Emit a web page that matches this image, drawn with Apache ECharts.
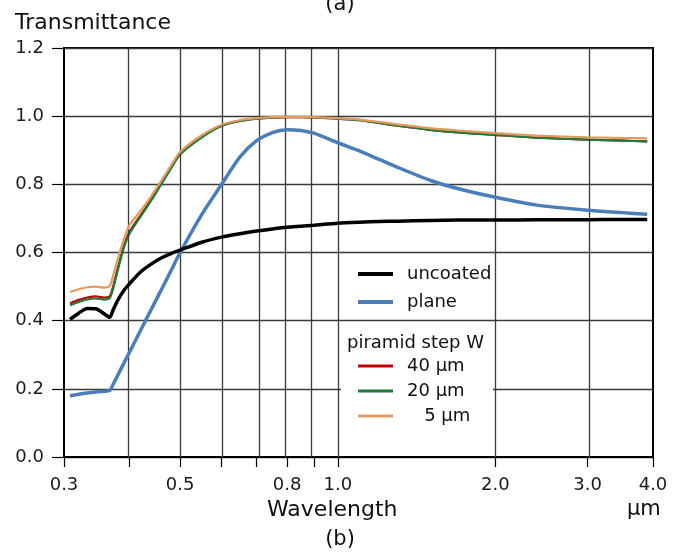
<!DOCTYPE html>
<html>
<head>
<meta charset="utf-8">
<script src="https://cdn.jsdelivr.net/npm/echarts@6/dist/echarts.min.js"></script>
<style>html,body{margin:0;padding:0;background:#fff}#chart{width:677px;height:554px}</style>
</head>
<body>
<div id="chart"></div>
<script>
// ---- data ----
const wavelengths = [0.308, 0.32, 0.332, 0.345, 0.358, 0.367, 0.372, 0.38, 0.39, 0.40, 0.42, 0.44, 0.46, 0.48, 0.50, 0.55, 0.60, 0.65, 0.70, 0.75, 0.80, 0.85, 0.90, 1.0, 1.1, 1.2, 1.3, 1.5, 1.7, 2.0, 2.4, 3.0, 3.5, 3.9];
const uncoated = [0.404, 0.422, 0.436, 0.435, 0.420, 0.410, 0.430, 0.460, 0.488, 0.508, 0.543, 0.566, 0.584, 0.597, 0.607, 0.630, 0.645, 0.655, 0.663, 0.669, 0.674, 0.677, 0.680, 0.686, 0.689, 0.691, 0.692, 0.694, 0.695, 0.695, 0.696, 0.696, 0.697, 0.697];
const plane = [0.179, 0.184, 0.188, 0.191, 0.193, 0.195, 0.212, 0.240, 0.274, 0.307, 0.371, 0.432, 0.490, 0.546, 0.600, 0.712, 0.800, 0.880, 0.928, 0.952, 0.960, 0.958, 0.950, 0.922, 0.898, 0.873, 0.850, 0.812, 0.787, 0.762, 0.739, 0.724, 0.717, 0.712];
const step40 = [0.451, 0.461, 0.468, 0.471, 0.468, 0.472, 0.498, 0.553, 0.617, 0.660, 0.709, 0.755, 0.802, 0.848, 0.889, 0.939, 0.972, 0.986, 0.993, 0.996, 0.997, 0.997, 0.996, 0.993, 0.988, 0.980, 0.972, 0.960, 0.952, 0.945, 0.937, 0.931, 0.928, 0.926];
const step20 = [0.445, 0.455, 0.462, 0.465, 0.462, 0.467, 0.492, 0.548, 0.612, 0.655, 0.705, 0.752, 0.800, 0.846, 0.888, 0.938, 0.972, 0.986, 0.993, 0.996, 0.997, 0.997, 0.996, 0.993, 0.988, 0.980, 0.972, 0.960, 0.952, 0.945, 0.937, 0.931, 0.928, 0.926];
const step5 = [0.484, 0.492, 0.498, 0.500, 0.497, 0.502, 0.530, 0.580, 0.638, 0.680, 0.722, 0.765, 0.810, 0.855, 0.895, 0.944, 0.975, 0.988, 0.994, 0.997, 0.998, 0.998, 0.997, 0.994, 0.990, 0.983, 0.976, 0.965, 0.958, 0.950, 0.943, 0.938, 0.936, 0.935];
const xGridValues = [0.4, 0.5, 0.6, 0.7, 0.8, 0.9, 1.0, 2.0, 3.0];
const xTickValues = [0.3, 0.4, 0.5, 0.6, 0.7, 0.8, 0.9, 1.0, 2.0, 3.0, 4.0];
const xLabelValues = [0.3, 0.5, 0.8, 1.0, 2.0, 3.0, 4.0];
const xMin = 0.3, xMax = 4.0;

// ---- chart ----
const FONT = 'DejaVu Sans';
const GRIDC = '#3a3a3a';
const lg = v => Math.log10(v);
const pairs = vals => wavelengths.map((w, i) => [lg(w), vals[i]]);

const chart = echarts.init(document.getElementById('chart'), null, {renderer: 'canvas'});

function lineSeries(name, vals, color, width, z) {
  return {
    name, type: 'line', data: pairs(vals), symbol: 'none', smooth: 0.25, z,
    lineStyle: {color, width}, itemStyle: {color}, silent: true
  };
}

const option = {
  animation: false,
  backgroundColor: '#fff',
  grid: {left: 64, top: 48, right: 24, bottom: 97, show: true, borderColor: '#000', borderWidth: 2, backgroundColor: 'transparent'},
  xAxis: {
    type: 'value', min: lg(xMin), max: lg(xMax),
    axisLine: {show: true, onZero: false, lineStyle: {color: '#000', width: 2}},
    axisTick: {show: true, length: 10, customValues: xTickValues.map(lg), lineStyle: {color: '#000', width: 1.2}},
    axisLabel: {show: true, customValues: xLabelValues.map(lg), margin: 19, color: '#1a1a1a', fontFamily: FONT, fontSize: 18,
      formatter: v => Math.pow(10, v).toFixed(1)},
    splitLine: {show: false}
  },
  yAxis: {
    type: 'value', min: 0, max: 1.2, interval: 0.2,
    axisLine: {show: true, onZero: false, lineStyle: {color: '#000', width: 2}},
    axisTick: {show: true, length: 12, lineStyle: {color: '#000', width: 1.2}},
    axisLabel: {margin: 20, color: '#1a1a1a', fontFamily: FONT, fontSize: 18, formatter: v => v.toFixed(1)},
    splitLine: {show: true, lineStyle: {color: GRIDC, width: 1.3}}
  },
  legend: [
    {data: ['uncoated', 'plane'], orient: 'vertical', left: 353, top: 259, itemWidth: 35, itemHeight: 4, itemGap: 8,
      icon: 'rect',
      textStyle: {fontFamily: FONT, fontSize: 18, color: '#111', lineHeight: 20, padding: [0, 0, 0, 9]},
      selectedMode: false, z: 10},
    {data: ['40 µm', '20 µm', '5 µm'], orient: 'vertical', left: 353, top: 351, itemWidth: 35, itemHeight: 3, itemGap: 5,
      icon: 'rect',
      textStyle: {fontFamily: FONT, fontSize: 18, color: '#111', lineHeight: 20, padding: [0, 0, 0, 9]},
      formatter: n => n === '5 µm' ? '   ' + n : n,
      selectedMode: false, z: 10}
  ],
  graphic: [
    {type: 'rect', shape: {x: 341, y: 328, width: 152, height: 127}, style: {fill: '#fff'}, z: 1, silent: true},
    {type: 'text', x: 347, y: 343, style: {text: 'piramid step W', fontFamily: FONT, fontSize: 18, fill: '#111', verticalAlign: 'middle'}, z: 10},
    {type: 'text', x: 15, y: 23, style: {text: 'Transmittance', fontFamily: FONT, fontSize: 22, fill: '#111', verticalAlign: 'middle'}, z: 10},
    {type: 'text', x: 340, y: 5, style: {text: '(a)', fontFamily: FONT, fontSize: 21, fill: '#111', align: 'center', verticalAlign: 'middle'}, z: 10},
    {type: 'text', x: 267, y: 510, style: {text: 'Wavelength', fontFamily: FONT, fontSize: 22, fill: '#111', verticalAlign: 'middle'}, z: 10},
    {type: 'text', x: 627, y: 510, style: {text: 'µm', fontFamily: FONT, fontSize: 21, fill: '#111', verticalAlign: 'middle'}, z: 10},
    {type: 'text', x: 340, y: 540, style: {text: '(b)', fontFamily: FONT, fontSize: 21, fill: '#111', align: 'center', verticalAlign: 'middle'}, z: 10}
  ],
  series: [
    {
      name: 'grid', type: 'line', data: [], z: 1, silent: true,
      markLine: {symbol: 'none', silent: true, animation: false, label: {show: false},
        lineStyle: {color: GRIDC, width: 1.3, type: 'solid'},
        data: xGridValues.map(v => ({xAxis: lg(v)}))}
    },
    lineSeries('40 µm', step40, '#c00000', 2.2, 3),
    lineSeries('20 µm', step20, '#1e7b3c', 2.2, 4),
    lineSeries('5 µm', step5, '#e39a5c', 2.2, 5),
    lineSeries('plane', plane, '#4a7ebb', 3.5, 6),
    lineSeries('uncoated', uncoated, '#000000', 3.5, 7)
  ]
};
chart.setOption(option);
</script>
</body>
</html>
